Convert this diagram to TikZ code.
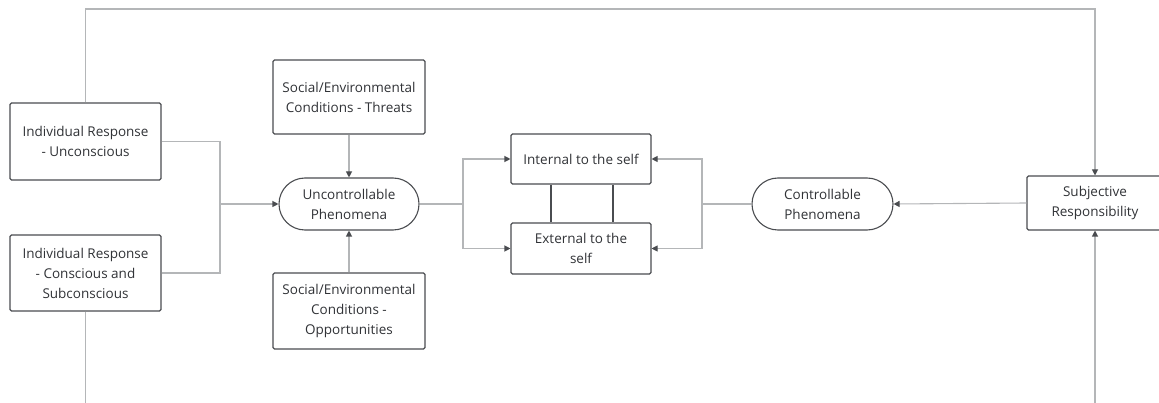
\documentclass[tikz,border=0pt]{standalone}
\usepackage{fontspec}
\setmainfont{Open Sans}
\usetikzlibrary{arrows.meta, shapes.misc}
\definecolor{edgegray}{HTML}{B4B6B8}
\definecolor{boxgray}{HTML}{4A4C50}
\definecolor{textgray}{HTML}{303236}

\begin{document}
\begin{tikzpicture}[x=1pt,y=-1pt,
    line width=1.1pt,
    >={Triangle[length=6pt,width=6pt,color=boxgray]},
    box/.style={draw=boxgray, rounded corners=1.5pt, align=center, text=textgray,
        font=\fontsize{13.5}{20}\selectfont, inner sep=0pt},
    pill/.style={draw=boxgray, rounded rectangle, align=center, text=textgray,
        font=\fontsize{13.5}{20}\selectfont, inner sep=0pt,
        minimum width=140pt, minimum height=52pt},
    conn/.style={draw=edgegray}]
                \clip (0,0) rectangle (1159,403);
                \node[box, minimum width=151pt, minimum height=77pt] (resp1) at (85.5,141.5) {Individual Response\\- Unconscious};
                \node[box, minimum width=151pt, minimum height=76pt] (resp2) at (85.5,273) {Individual Response\\- Conscious and\\Subconscious};
                \node[box, minimum width=152pt, minimum height=74pt] (threats) at (349,97) {Social/Environmental\\Conditions - Threats};
                \node[box, minimum width=152pt, minimum height=76pt] (opps) at (349,311) {Social/Environmental\\Conditions -\\Opportunities};
                \node[pill] (unctrl) at (349,204) {Uncontrollable\\Phenomena};
                \node[box, minimum width=140pt, minimum height=50pt] (internal) at (581,159) {Internal to the self};
                \node[box, minimum width=140pt, minimum height=51pt] (external) at (581,248.5) {External to the\\self};
                \node[pill, minimum width=141pt] (ctrl) at (822.5,204) {Controllable\\Phenomena};
                \node[box, minimum width=136pt, minimum height=54pt] (subj) at (1095,203) {Subjective\\Responsibility};
                \coordinate (join) at (220,204);
                \coordinate (splitL) at (463,204);
                \coordinate (splitR) at (702,204);
                \coordinate (top) at (0,9);
                \coordinate (bot) at (0,420);
                \draw[conn] (resp1.east) -| (join);
                \draw[conn] (resp2.east) -| (join);
                \draw[conn,->] (join) -- (unctrl.west);
                \draw[conn,->] (threats.south) -- (unctrl.north);
                \draw[conn,->] (opps.north) -- (unctrl.south);
                \draw[conn] (unctrl.east) -- (splitL);
                \draw[conn,->] (splitL) |- (internal.west);
                \draw[conn,->] (splitL) |- (external.west);
                \draw[conn] (ctrl.west) -- (splitR);
                \draw[conn,->] (splitR) |- (internal.east);
                \draw[conn,->] (splitR) |- (external.east);
                \draw[conn,->] (subj.west) -- (ctrl.east);
                \draw[conn,->] (resp1.north) -- (resp1.north |- top) -| (subj.north);
                \draw[conn,->] (resp2.south) -- (resp2.south |- bot) -| (subj.south);
                \draw[boxgray] ([xshift=-30pt]internal.south) -- ([xshift=-30pt]external.north);
                \draw[boxgray] ([xshift=32pt]internal.south) -- ([xshift=32pt]external.north);
\end{tikzpicture}
\end{document}
